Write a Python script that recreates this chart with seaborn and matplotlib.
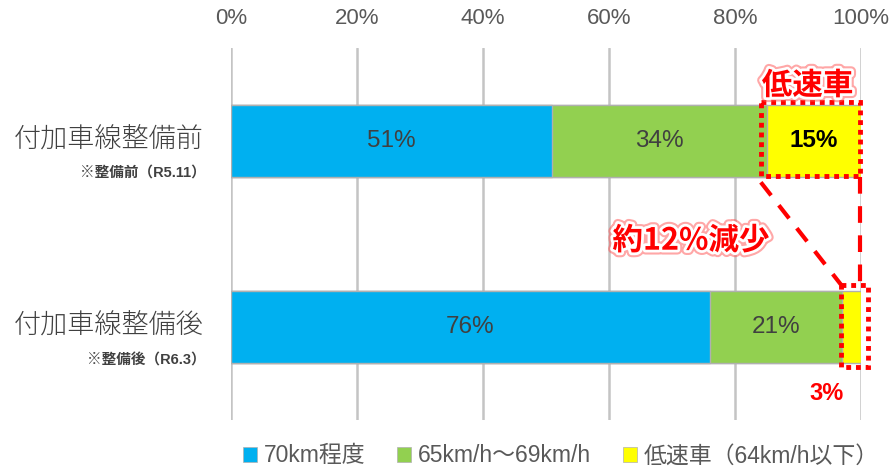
import numpy as np
import pandas as pd
import seaborn as sns
import matplotlib.pyplot as plt
import matplotlib.patheffects as pe
from matplotlib.patches import Rectangle, Patch

# 데이터
categories = ['付加車線整備前', '付加車線整備後']
sub_labels = ['※整備前（R5.11）', '※整備後（R6.3）']
series_names = ['70km程度', '65km/h～69km/h', '低速車（64km/h以下）']
v70 = [51, 76]
v65 = [34, 21]
vlow = [15, 3]
colors = ['#00B0F0', '#92D050', '#FFFF00']

sns.set_style('white')
plt.rcParams['font.family'] = ['Liberation Sans', 'Noto Sans CJK JP', 'DejaVu Sans']

df = pd.DataFrame({'cat': categories, 'v70': v70, 'v65': v65, 'vlow': vlow})
df['c1'] = df.v70
df['c2'] = df.v70 + df.v65
df['c3'] = df.c2 + df.vlow

fig = plt.figure(figsize=(8.93, 4.70), dpi=100)
ax = fig.add_axes([231/893, 1-420/470, 630/893, 372/470])

# 누적 막대 (뒤에서부터 그림)
for col, c in zip(['c3', 'c2', 'c1'], colors[::-1]):
    sns.barplot(data=df, x=col, y='cat', orient='h', color=c, width=0.39,
                edgecolor='#b0b0b0', linewidth=1, saturation=1, ax=ax, zorder=3)

ax.set_xlim(0, 100)
ax.set_ylim(1.5, -0.5)
ax.set_xticks(range(0, 101, 20))
ax.set_xticklabels([f'{t}%' for t in range(0, 101, 20)])
ax.xaxis.tick_top()
ax.tick_params(axis='x', length=0, pad=14, labelsize=16, labelcolor='#595959')
ax.set_yticks([])
ax.set_xlabel('')
ax.set_ylabel('')
ax.grid(axis='x', color='#c4c4c4', linewidth=1.8, zorder=0)
ax.set_axisbelow(True)
for s in ax.spines.values():
    s.set_visible(False)

# 세그먼트 라벨
for i in range(len(categories)):
    ax.text(v70[i] / 2, i, f'{v70[i]}%', ha='center', va='center', fontsize=17.5, color='#404040', zorder=5)
    ax.text(v70[i] + v65[i] / 2, i, f'{v65[i]}%', ha='center', va='center', fontsize=17.5, color='#404040', zorder=5)
ax.text(v70[0] + v65[0] + vlow[0] / 2, 0, f'{vlow[0]}%', ha='center', va='center',
        fontsize=17.5, fontweight='bold', color='black', zorder=5)

# y 라벨
tr = ax.get_yaxis_transform()
main_y = [-0.01, 0.99]
sub_y = [0.17, 1.18]
for i in range(len(categories)):
    ax.text(-0.044, main_y[i], categories[i], transform=tr, ha='right', va='center',
            fontsize=19.5, color='#404040', family=['Noto Sans CJK JP'], fontweight='light')
    ax.text(-0.04, sub_y[i], sub_labels[i], transform=tr, ha='right', va='center',
            fontsize=10.5, color='#404040', fontweight='bold')

# 강조 표시
red = '#FF0000'
ax.add_patch(Rectangle((84.1, -0.212), 15.7, 0.402, fill=False, edgecolor=red,
                       linewidth=3.5, linestyle=(0, (1, 1)), zorder=6, clip_on=False))
ax.add_patch(Rectangle((96.8, 0.775), 4.3, 0.44, fill=False, edgecolor=red,
                       linewidth=3.5, linestyle=(0, (1, 1)), zorder=6, clip_on=False))
ax.plot([84.1, 97.0], [0.222, 0.78], color=red, lw=3, ls=(0, (4, 3)), zorder=6, clip_on=False)
ax.plot([99.8, 99.8], [0.195, 0.77], color=red, lw=3, ls=(0, (4, 3)), zorder=6, clip_on=False)

glow = [pe.Stroke(linewidth=7, foreground='#ff5050', alpha=0.5),
        pe.Stroke(linewidth=4, foreground='white'), pe.Normal()]
ax.text(91.5, -0.298, '低速車', ha='center', va='center', fontsize=22, fontweight='bold',
        color=red, family=['Noto Sans CJK JP'], path_effects=glow, zorder=7, clip_on=False)
ax.text(73.0, 0.536, '約12%減少', ha='center', va='center', fontsize=22, fontweight='bold',
        color=red, family=['Noto Sans CJK JP'], path_effects=glow, zorder=7, clip_on=False)
ax.text(94.6, 1.36, '3%', ha='center', va='center', fontsize=17, fontweight='bold',
        color=red, zorder=7, clip_on=False)

# 범례
handles = [Patch(facecolor=c, edgecolor='#b0b0b0', linewidth=0.5) for c in colors]
fig.legend(handles, series_names, loc='center', bbox_to_anchor=(0.628, 0.03), ncol=3,
           frameon=False, fontsize=16.5, handlelength=0.6, handleheight=0.6,
           handletextpad=0.3, columnspacing=1.4, labelcolor='#595959')

fig.savefig('out.png', dpi=100)
